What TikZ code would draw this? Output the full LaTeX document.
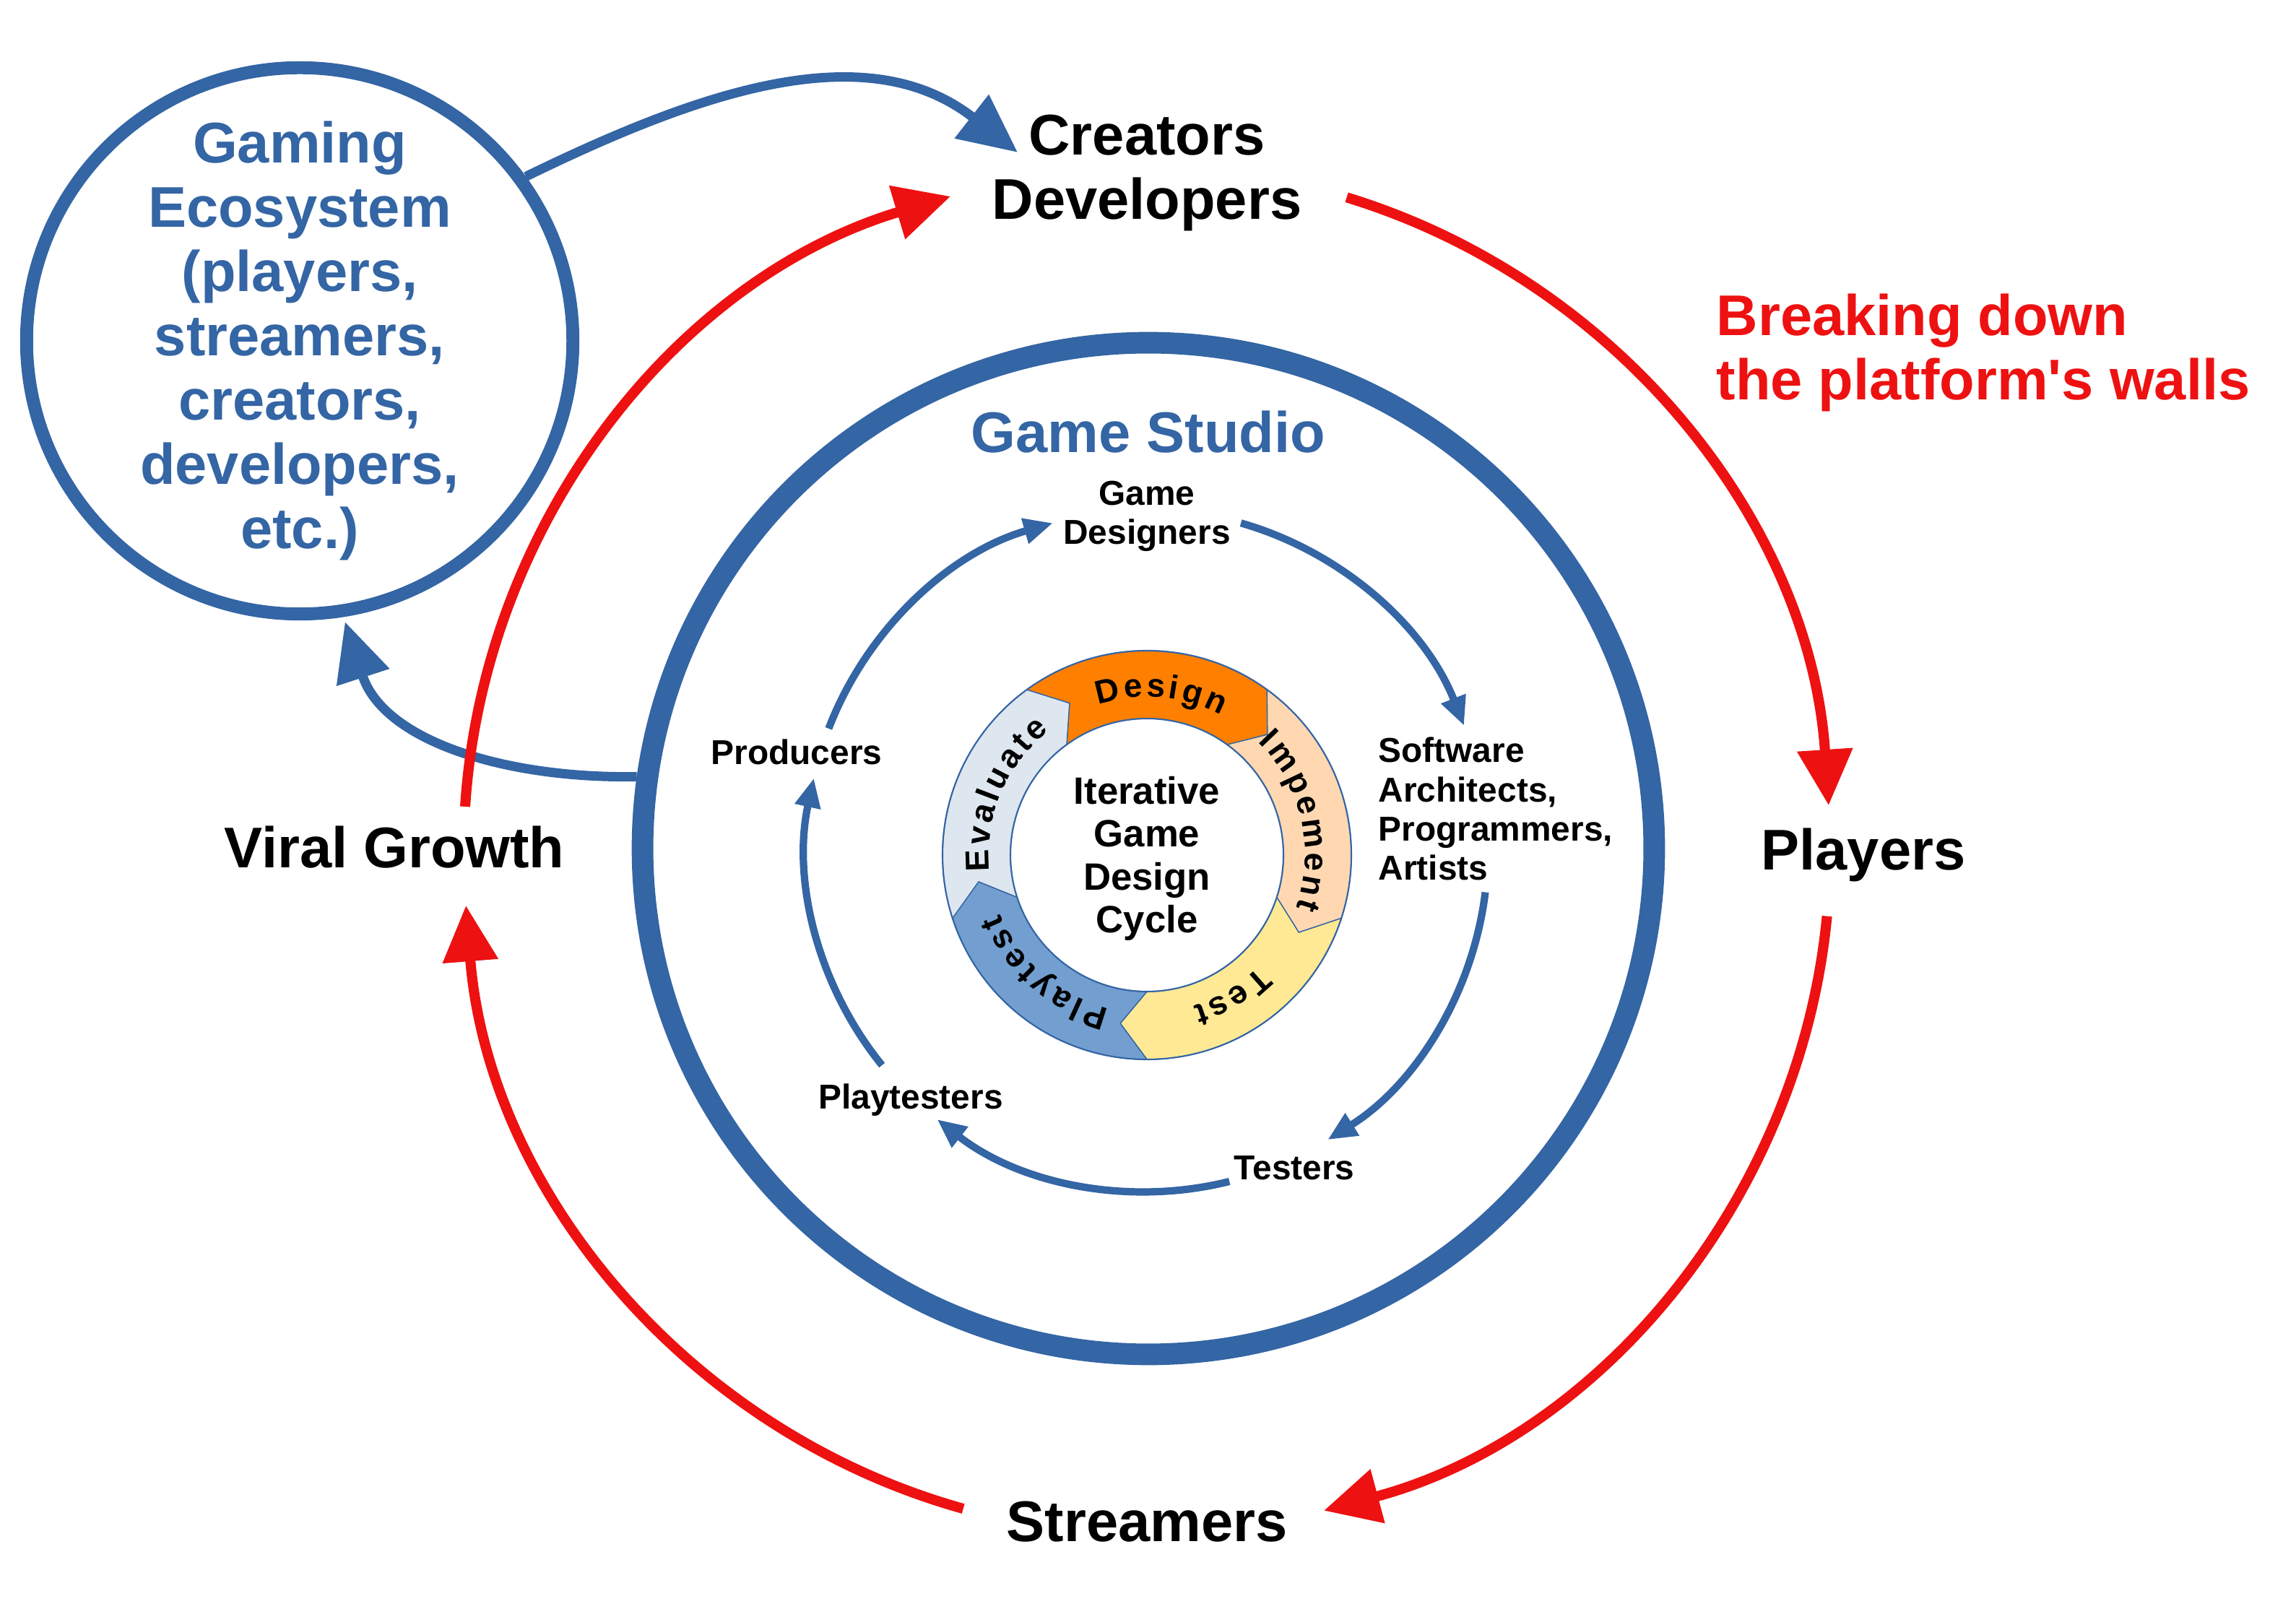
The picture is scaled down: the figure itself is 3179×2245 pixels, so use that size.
\documentclass[tikz,border=0pt]{standalone}
\usepackage{fontspec}
\setmainfont{Liberation Sans}
\newfontfamily\segfont[LetterSpace=4]{Liberation Sans}
\usetikzlibrary{arrows.meta,calc,decorations.text}

\definecolor{ecoblue}{HTML}{3465A4}
\definecolor{wallred}{HTML}{EE1111}
\definecolor{designcol}{HTML}{FF8000}
\definecolor{implcol}{HTML}{FFD8B2}
\definecolor{testcol}{HTML}{FFE994}
\definecolor{playcol}{HTML}{729FCF}
\definecolor{evalcol}{HTML}{DEE6EF}

\tikzset{
  bigtext/.style={font=\bfseries\fontsize{22.6}{25.3}\selectfont, align=center, inner sep=0pt},
  smalltext/.style={font=\bfseries\fontsize{13.6}{15.4}\selectfont, align=left, inner sep=0pt},
  cycletext/.style={font=\bfseries\fontsize{15}{16.9}\selectfont, align=center, inner sep=0pt},
  redflow/.style={wallred, line width=4pt, -{Triangle[length=22pt,width=21pt]}},
  blueflow/.style={ecoblue, line width=3.7pt, -{Triangle[length=23pt,width=21pt]}},
  teamflow/.style={ecoblue, line width=2.9pt, -{Triangle[length=11.5pt,width=9.7pt]}},
}

% one chevron of the design cycle: start angle, fill colour
\newcommand{\cyclepart}[2]{%
  \filldraw[fill=#2, draw=ecoblue, line width=0.4pt]
    ([shift={(#1:283)}]ring) arc (#1:#1-72:283)
    -- ([shift={(#1-81:236)}]ring)
    -- ([shift={(#1-72:189)}]ring) arc (#1-72:#1:189)
    -- ([shift={(#1-9:236)}]ring) -- cycle;}
% curved label on the cycle: centre angle, letters with spaces between
\newcommand{\cyclelabel}[2]{%
  \path[decorate, decoration={text along path, text align=center,
      text={|\segfont\bfseries\fontsize{13}{14}\selectfont\fontdimen2\font=1.3pt|#2}}]
    ([shift={(#1+50:219)}]ring) arc (#1+50:#1-50:219);}

\begin{document}
\begin{tikzpicture}[x=0.01cm, y=0.01cm]
\useasboundingbox (0,0) rectangle (3179,2245);

\coordinate (ring) at (1588,1061);
\coordinate (orbit) at (1588,1067);

% big circles
\node[circle, draw=ecoblue, line width=8.5pt, minimum size=14cm, inner sep=0pt] (studio) at (1590,1070) {};
\node[bigtext, circle, draw=ecoblue, line width=5.1pt, minimum size=7.56cm, text=ecoblue] (eco) at (415,1773)
  {Gaming\\Ecosystem\\(players,\\streamers,\\creators,\\developers,\\etc.)};

% design cycle
\cyclepart{126}{designcol}
\cyclepart{54}{implcol}
\cyclepart{-18}{testcol}
\cyclepart{-90}{playcol}
\cyclepart{-162}{evalcol}
\draw[ecoblue, line width=0.6pt] (ring) circle (283) (ring) circle (189);
\cyclelabel{85}{D e s i g n}
\cyclelabel{13}{I m p e m e n t}
\cyclelabel{-59}{T e s t}
\cyclelabel{-131}{P l a y t e s t}
\cyclelabel{157}{E v a l u a t e}
\node[cycletext] (cycle) at (1588,1056) {Iterative\\Game\\Design\\Cycle};

% labels
\node[bigtext] (dev) at (1588,2005) {Creators\\Developers};
\node[bigtext] (players) at (2580,1061) {Players};
\node[bigtext] (viral) at (546,1072) {Viral Growth};
\node[bigtext] (streamers) at (1588,138) {Streamers};
\node[bigtext, text=wallred, anchor=west, align=left] (walls) at (2376,1757)
  {Breaking down\\the platform\textquotesingle s walls};
\node[bigtext, text=ecoblue] (studiolabel) at (1590,1647) {Game Studio};
\node[smalltext, align=center] (designers) at (1588,1530) {Game\\Designers};
\node[smalltext] (producers) at (1103,1204) {Producers};
\node[smalltext, anchor=west] (software) at (1908,1125) {Software\\Architects,\\Programmers,\\Artists};
\node[smalltext] (testers) at (1792,628) {Testers};
\node[smalltext] (playtesters) at (1261,722) {Playtesters};

% studio team loop
\foreach \s/\e [count=\i] in {159/106, 74/21.5, -7/-58, -76/-128, -141/-192.3} {
  \coordinate (team\i) at ([shift={(\s:472)}]orbit);
  \draw[teamflow] (team\i) arc (\s:\e:472);
}

% ecosystem arrows
\coordinate (crtip) at (1409,2034);
\draw[blueflow] (eco.36) to[out=26,in=142] (crtip);
\draw[blueflow, shorten >=2pt] (studio.172) to[out=181,in=-72] (eco.-81);

% outer red loop
\coordinate (wall1) at ([shift={(73:946)}]orbit);
\coordinate (wall2) at ([shift={(-5.5:946)}]orbit);
\coordinate (wall3) at ([shift={(-105.6:946)}]orbit);
\coordinate (wall4) at ([shift={(176.3:946)}]orbit);
\draw[redflow] (wall1) arc (73:3.8:946);
\draw[redflow] (wall2) arc (-5.5:-75:946);
\draw[redflow] (wall3) arc (-105.6:-175.4:946);
\draw[redflow] (wall4) arc (176.3:106.7:946);
\end{tikzpicture}
\end{document}
